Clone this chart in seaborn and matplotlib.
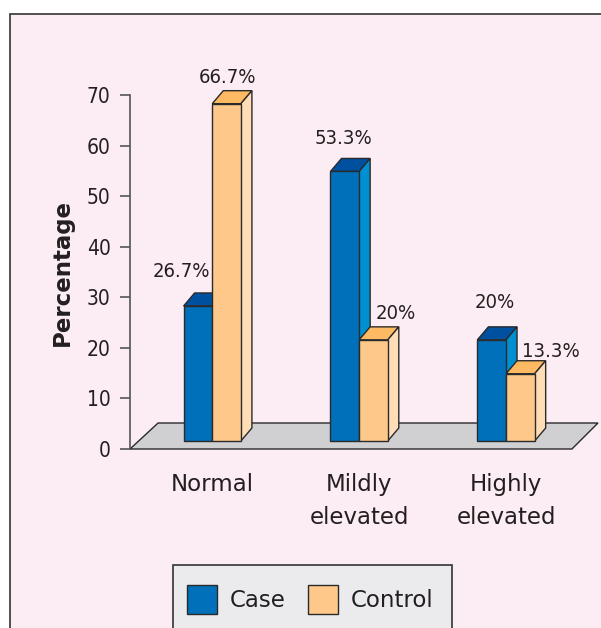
import pandas as pd
import seaborn as sns
import matplotlib.pyplot as plt
from matplotlib.patches import Polygon, Rectangle

# data
categories = ['Normal', 'Mildly\nelevated', 'Highly\nelevated']
groups = ['Case', 'Control']
case_pct = [26.7, 53.3, 20]
control_pct = [66.7, 20, 13.3]
value_labels = {'Case': ['26.7%', '53.3%', '20%'],
                'Control': ['66.7%', '20%', '13.3%']}

df = pd.DataFrame({
    'Category': categories * 2,
    'Group': ['Case'] * 3 + ['Control'] * 3,
    'Percentage': case_pct + control_pct,
})

# colours: front / top / side
faces = {
    'Case': ('#0070BA', '#0050A0', '#0090D2'),
    'Control': ('#FDC88A', '#FDBA62', '#FFDDB6'),
}
edge = '#2a2a2a'
ink = '#231F20'
pink = '#FCECF3'

# label offsets (points) from the front-top centre of each bar
label_off = {'Case': [(-12, 21), (-1, 20), (2, 23)],
             'Control': [(1, 15), (16, 15), (22, 12)]}

plt.rcParams['font.family'] = ['DejaVu Sans']
W, H = 601, 628
fig = plt.figure(figsize=(W / 100, H / 100), dpi=100)
fig.patch.set_facecolor('white')
fig.patches.append(Rectangle((10 / W, -0.1), 1.2, 1 - 14 / H + 0.1,
                             transform=fig.transFigure, facecolor=pink,
                             edgecolor='#333333', lw=1.2, zorder=-10))

ax = fig.add_axes([130 / W, (H - 449) / H, (600 - 130) / W, (449 - 95) / H])
ax.set_facecolor('none')

sns.barplot(data=df, x='Category', y='Percentage', hue='Group',
            order=categories, hue_order=groups, width=0.39,
            palette=[faces[g][0] for g in groups], edgecolor=edge,
            linewidth=1, saturation=1, legend=False, ax=ax, zorder=3)

ax.set_xlim(-0.56, 2.64)
ax.set_ylim(0, 70)

ppx = 146.5           # pixels per category unit
ppy = 354 / 70        # pixels per value unit
dx = 11 / ppx         # depth offset
dy = 13 / ppy
lift = 8 / ppy        # bars sit back on the floor

# floor
x0, x1 = ax.get_xlim()
floor = Polygon([(x0, 0), (x0 + 28 / ppx, 26 / ppy), (x1 - 2 / ppx, 26 / ppy),
                 (x1 - 28 / ppx, 0)], closed=True, facecolor='#D0D0D2',
                edgecolor=edge, lw=1, zorder=1, clip_on=False)
ax.add_patch(floor)

bars = sorted([p for p in ax.patches if isinstance(p, Rectangle)],
              key=lambda p: p.get_x())
for i, p in enumerate(bars):
    g = groups[i % 2]
    ci = i // 2
    front, top, side = faces[g]
    p.set_y(p.get_y() + lift)
    x, y, w, h = p.get_x(), p.get_y(), p.get_width(), p.get_height()
    ax.add_patch(Polygon([(x, y + h), (x + dx, y + h + dy), (x + w + dx, y + h + dy),
                          (x + w, y + h)], closed=True, facecolor=top,
                         edgecolor=edge, lw=1, zorder=2, clip_on=False))
    ax.add_patch(Polygon([(x + w, y), (x + w + dx, y + dy), (x + w + dx, y + h + dy),
                          (x + w, y + h)], closed=True, facecolor=side,
                         edgecolor=edge, lw=1, zorder=2, clip_on=False))
    ax.annotate(value_labels[g][ci], (x + w / 2, y + h),
                xytext=label_off[g][ci], textcoords='offset points',
                ha='center', va='baseline', fontsize=14.5,
                fontstretch='condensed', color=ink)

for s in ['top', 'right', 'bottom']:
    ax.spines[s].set_visible(False)
ax.spines['left'].set_color('#555555')
ax.spines['left'].set_linewidth(1.2)
ax.set_yticks(range(0, 71, 10))
ax.tick_params(axis='y', length=7, width=1.2, color='#555555',
               labelsize=15, labelcolor=ink, pad=7)
for lab in ax.get_yticklabels():
    lab.set_fontstretch('condensed')
ax.tick_params(axis='x', length=0, labelsize=16.5, labelcolor=ink, pad=17)
for lab in ax.get_xticklabels():
    lab.set_linespacing(1.55)
    lab.set_verticalalignment('top')
ax.set_xlabel('')
ax.set_ylabel('Percentage', fontsize=16.5, fontweight='bold', color=ink,
              labelpad=9)

# legend box (runs off the bottom of the figure, as in the source)
fig.patches.append(Rectangle((173 / W, -0.05), (452 - 173) / W, (H - 565) / H + 0.05,
                             transform=fig.transFigure, facecolor='#EBEBEE',
                             edgecolor='#333333', lw=1.2, zorder=-5))
handles = [Rectangle((0, 0), 1, 1, facecolor=faces[g][0], edgecolor=edge, lw=1)
           for g in groups]
leg = fig.legend(handles, groups, loc='upper left',
                 bbox_to_anchor=(187 / W, (H - 585) / H), borderaxespad=0,
                 borderpad=0, ncol=2, fontsize=16.5, frameon=False,
                 handlelength=1.3, handleheight=1.6, handletextpad=0.55,
                 columnspacing=1.0, labelcolor=ink)

fig.savefig('out.png', dpi=100)
